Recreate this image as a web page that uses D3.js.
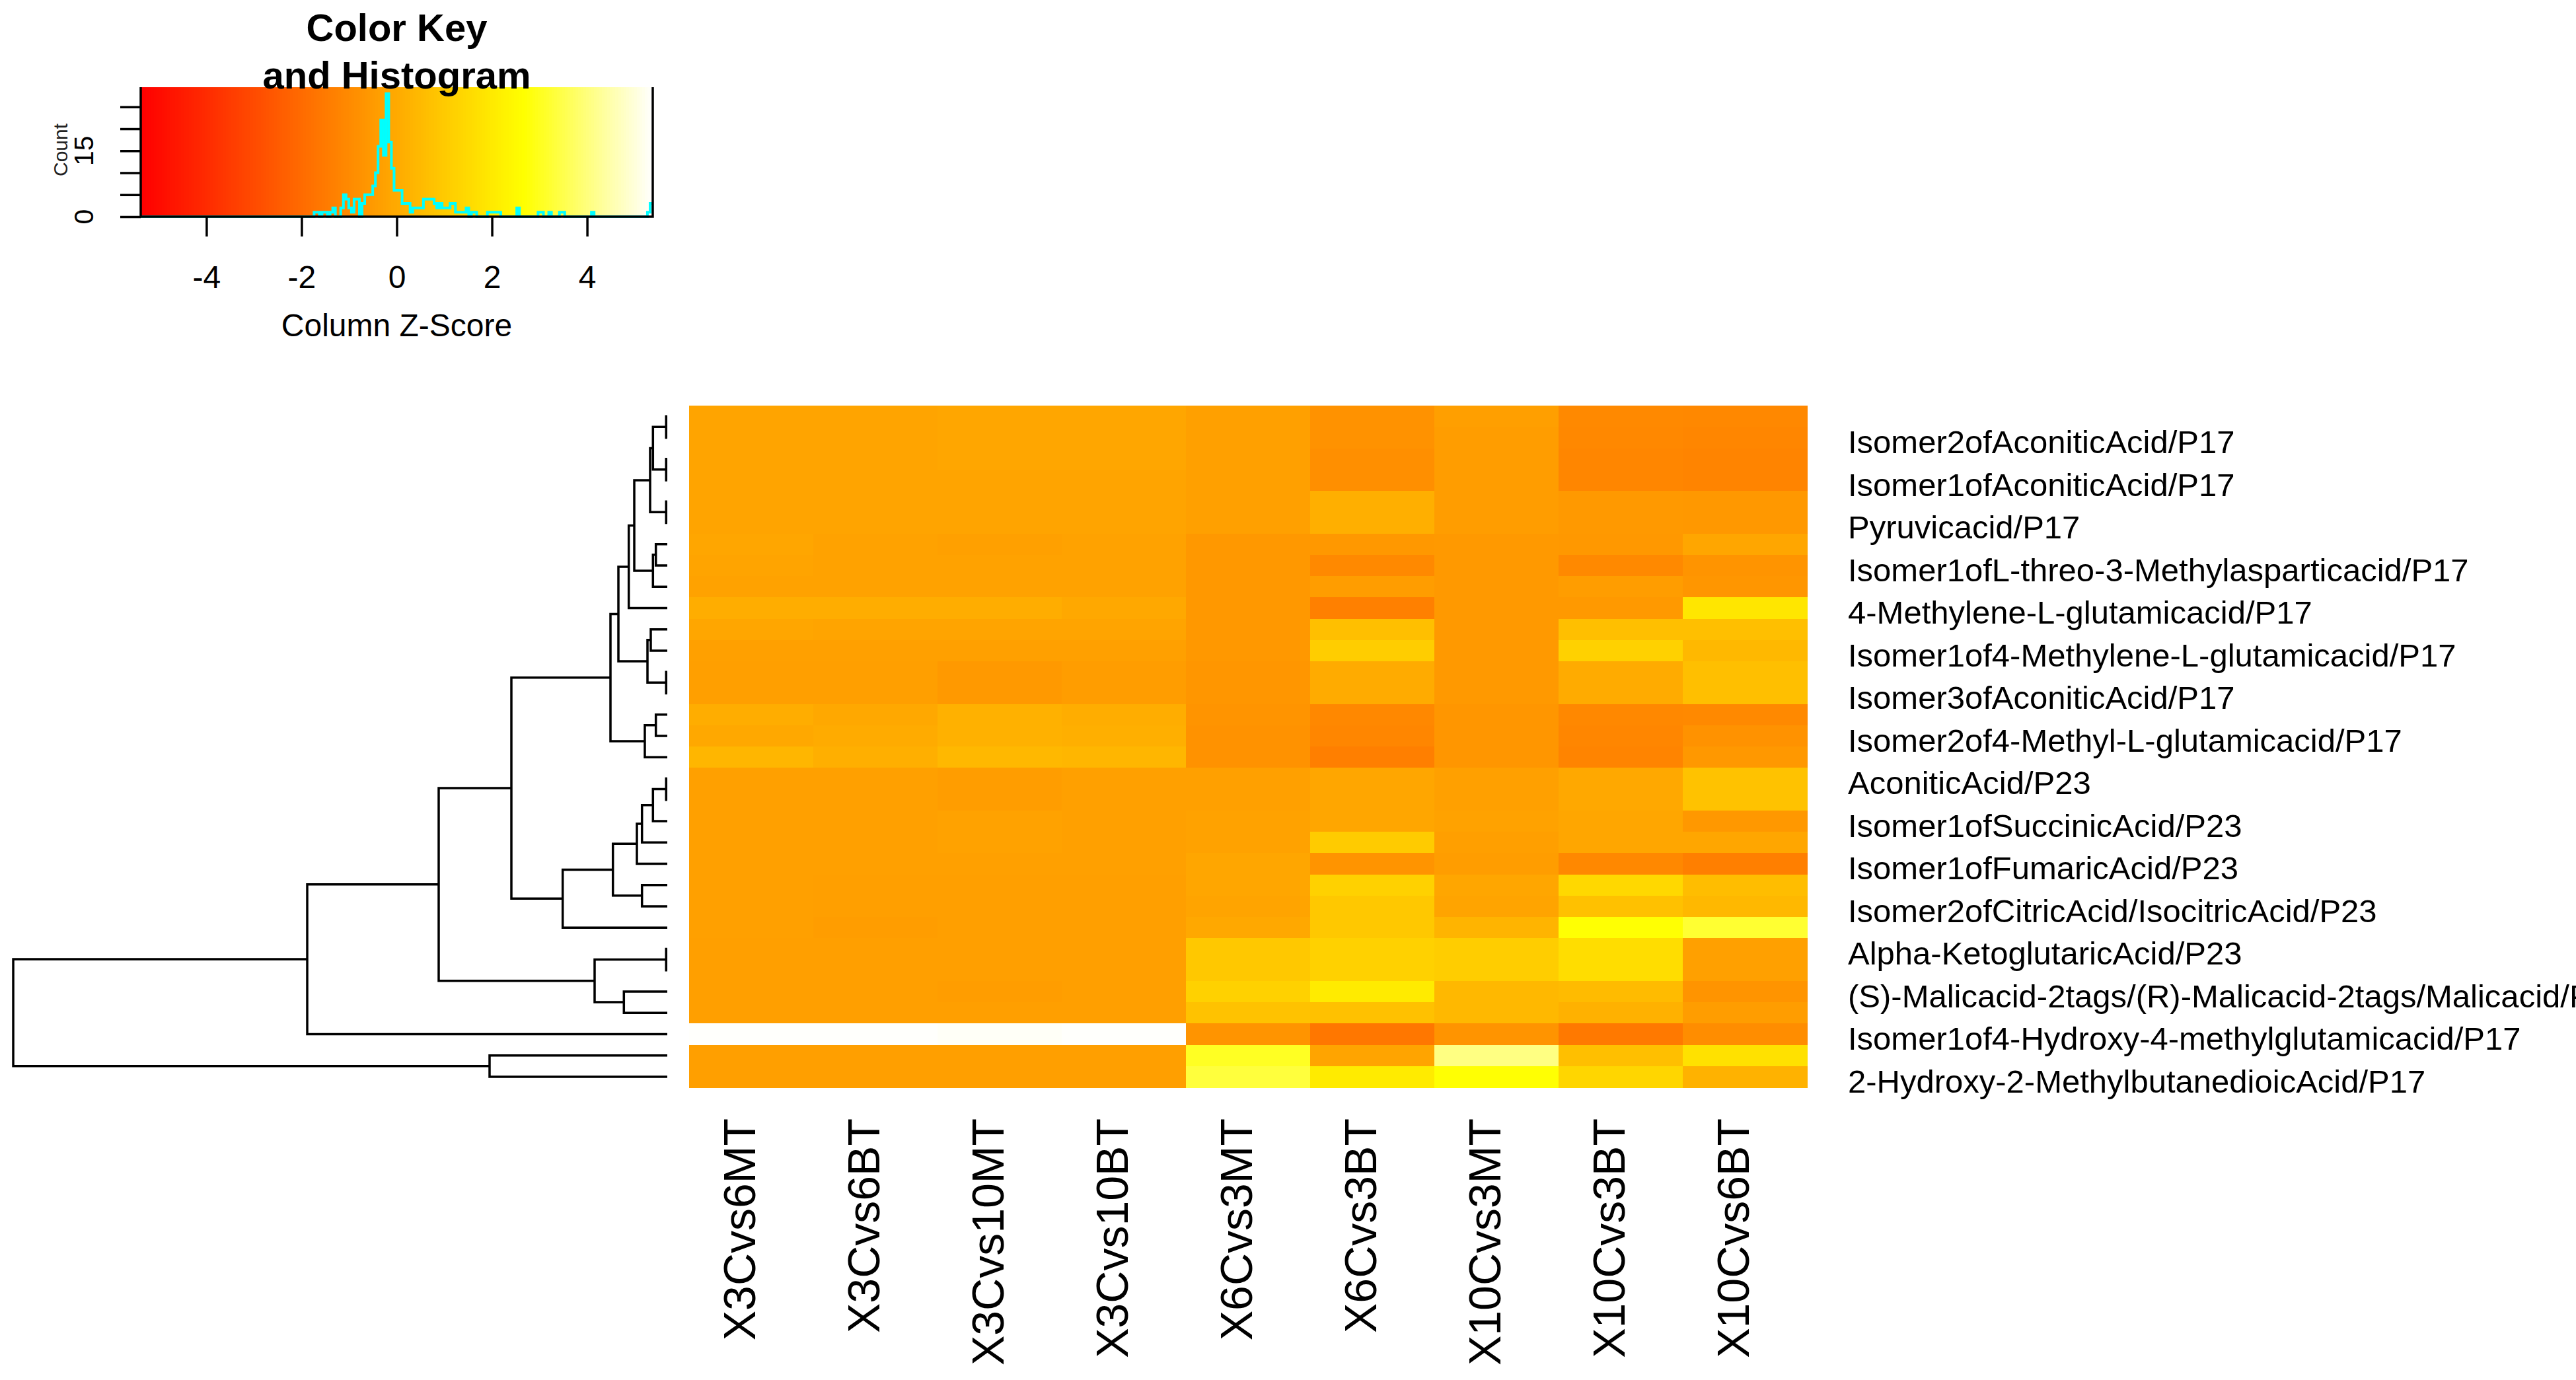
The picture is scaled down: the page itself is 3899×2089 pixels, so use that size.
<!DOCTYPE html>
<html>
<head>
<meta charset="utf-8">
<script src="https://cdn.jsdelivr.net/npm/d3@7"></script>
<style>
  body { margin: 0; background: #fff; overflow: hidden; }
  svg text { font-family: "Liberation Sans", Arial, Helvetica, sans-serif; fill: #000; }
</style>
</head>
<body>
<div id="chart-area"></div>
<script>
// column (comparison) names, left to right
var colLabels = ["X3Cvs6MT", "X3Cvs6BT", "X3Cvs10MT", "X3Cvs10BT", "X6Cvs3MT",
                 "X6Cvs3BT", "X10Cvs3MT", "X10Cvs3BT", "X10Cvs6BT"];

// only every second row carries a visible label (rows 1,3,...,31 from the top)
var labelledRows = [1, 3, 5, 7, 9, 11, 13, 15, 17, 19, 21, 23, 25, 27, 29, 31];
var rowLabels = [
  "Isomer2ofAconiticAcid/P17",
  "Isomer1ofAconiticAcid/P17",
  "Pyruvicacid/P17",
  "Isomer1ofL-threo-3-Methylasparticacid/P17",
  "4-Methylene-L-glutamicacid/P17",
  "Isomer1of4-Methylene-L-glutamicacid/P17",
  "Isomer3ofAconiticAcid/P17",
  "Isomer2of4-Methyl-L-glutamicacid/P17",
  "AconiticAcid/P23",
  "Isomer1ofSuccinicAcid/P23",
  "Isomer1ofFumaricAcid/P23",
  "Isomer2ofCitricAcid/IsocitricAcid/P23",
  "Alpha-KetoglutaricAcid/P23",
  "(S)-Malicacid-2tags/(R)-Malicacid-2tags/Malicacid/P23",
  "Isomer1of4-Hydroxy-4-methylglutamicacid/P17",
  "2-Hydroxy-2-MethylbutanedioicAcid/P17"
];

// column z-scores, 32 rows (top to bottom) x 9 columns
var zScores = [
  [-0.19,-0.19,-0.16,-0.16,-0.32,-0.76,-0.38,-1.01,-1.08],
  [-0.19,-0.19,-0.16,-0.16,-0.32,-0.76,-0.44,-1.08,-1.14],
  [-0.22,-0.22,-0.16,-0.16,-0.32,-0.89,-0.44,-1.14,-1.20],
  [-0.22,-0.22,-0.19,-0.19,-0.32,-0.89,-0.44,-1.14,-1.20],
  [-0.22,-0.22,-0.19,-0.19,-0.32, 0.13,-0.44,-0.51,-0.57],
  [-0.22,-0.22,-0.19,-0.19,-0.32, 0.13,-0.44,-0.51,-0.57],
  [-0.13,-0.25,-0.32,-0.25,-0.57,-0.57,-0.51,-0.57,-0.16],
  [-0.19,-0.25,-0.25,-0.25,-0.57,-1.01,-0.51,-1.01,-0.70],
  [-0.25,-0.25,-0.25,-0.25,-0.57,-0.44,-0.51,-0.44,-0.63],
  [ 0.10, 0.10, 0.10,-0.06,-0.57,-1.33,-0.51,-0.51, 1.90],
  [-0.16,-0.19,-0.19,-0.22,-0.60, 0.67,-0.51, 0.67, 0.67],
  [-0.32,-0.32,-0.32,-0.32,-0.60, 1.08,-0.51, 1.20, 0.44],
  [-0.35,-0.35,-0.51,-0.41,-0.66, 0.00,-0.54, 0.00, 0.63],
  [-0.35,-0.35,-0.51,-0.41,-0.66, 0.00,-0.54, 0.00, 0.63],
  [ 0.10,-0.06, 0.19, 0.10,-0.70,-1.08,-0.63,-1.08,-1.01],
  [-0.06, 0.00, 0.19, 0.13,-0.76,-1.14,-0.63,-1.14,-0.76],
  [ 0.35, 0.13, 0.44, 0.35,-0.76,-1.39,-0.63,-1.20,-0.57],
  [-0.32,-0.32,-0.44,-0.32,-0.32,-0.16,-0.32,-0.06, 0.76],
  [-0.32,-0.32,-0.44,-0.32,-0.32,-0.16,-0.32,-0.06, 0.76],
  [-0.32,-0.32,-0.25,-0.32,-0.25,-0.16,-0.25,-0.13,-0.57],
  [-0.32,-0.32,-0.25,-0.32,-0.25, 1.01,-0.38,-0.13,-0.13],
  [-0.32,-0.32,-0.32,-0.32,-0.13,-0.70,-0.44,-1.08,-1.36],
  [-0.32,-0.38,-0.38,-0.38,-0.13, 1.20,-0.13, 1.42, 0.57],
  [-0.32,-0.38,-0.38,-0.38,-0.22, 0.95,-0.22, 0.70, 0.44],
  [-0.32,-0.44,-0.38,-0.38,-0.06, 0.95, 0.29, 2.69, 3.20],
  [-0.38,-0.38,-0.38,-0.38, 0.95, 1.20, 1.08, 1.61,-0.32],
  [-0.38,-0.38,-0.38,-0.38, 0.95, 1.20, 1.08, 1.61,-0.32],
  [-0.38,-0.38,-0.44,-0.38, 1.20, 2.06, 0.44, 0.54,-0.70],
  [-0.38,-0.38,-0.38,-0.38, 0.76, 0.70, 0.44, 0.19,-0.44],
  [ 5.38, 5.38, 5.30, 5.38,-0.70,-1.61,-0.70,-1.52,-0.95],
  [-0.35,-0.35,-0.35,-0.35, 3.04,-0.19, 4.04, 0.67, 1.71],
  [-0.35,-0.35,-0.35,-0.35, 3.36, 2.06, 2.69, 1.36, 0.25]
];

// row dendrogram, hclust style: [left, right, height]
// negative = leaf (row index + 1), positive = earlier merge (1-based)
var rowMerge = [
  [-1, -2, 0.017], [-3, -4, 0.017], [1, 2, 0.217], [-5, -6, 0.017],
  [3, 4, 0.26], [-7, -8, 0.173], [6, -9, 0.217], [5, 7, 0.50],
  [8, -10, 0.583], [-11, -12, 0.25], [-13, -14, 0.017], [10, 11, 0.30],
  [9, 12, 0.74], [-15, -16, 0.173], [14, -17, 0.34], [13, 15, 0.86],
  [-18, -19, 0.017], [17, -20, 0.217], [18, -21, 0.383], [19, -22, 0.46],
  [-23, -24, 0.383], [20, 21, 0.823], [22, -25, 1.583], [16, 23, 2.36],
  [-26, -27, 0.017], [-28, -29, 0.657], [25, 26, 1.10], [24, 27, 3.46],
  [28, -30, 5.45], [-31, -32, 2.69], [29, 30, 9.9]
];

// color key: symmetric range and number of color bins
var zMax = 5.38;
var nBins = 192;
var keyTicks = [-4, -2, 0, 2, 4];

// histogram of all z-scores: [bin index, count]
var histBins = [
  [65,1],[66,1],[68,1],[69,1],[71,1],[72,2],[75,2],[76,5],[77,4],[78,2],[79,1],
  [80,4],[81,4],[83,3],[84,5],[85,5],[86,5],[87,7],[88,10],[89,16],[90,22],
  [91,14],[92,28],[93,17],[94,11],[95,6],[96,6],[97,6],[98,3],[99,3],[100,3],
  [101,1],[102,2],[103,2],[104,2],[105,2],[106,4],[107,4],[108,4],[109,4],
  [110,3],[111,2],[112,3],[113,2],[114,2],[115,2],[116,3],[117,3],[118,1],
  [119,1],[120,1],[121,1],[122,2],[124,1],[125,1],[130,1],[131,1],[132,1],
  [133,1],[134,1],[141,2],[149,1],[150,1],[153,1],[157,1],[158,1],[169,1],
  [190,1],[191,3]
];
var countTicks = [0, 5, 10, 15, 20, 25];
var countLabels = [0, 15];

var W = 3899, H = 2089;
var svg = d3.select("#chart-area").append("svg")
    .attr("width", W)
    .attr("height", H);

// R heat.colors(n)
function hsv2hex(h, s, v) {
    var hi = Math.floor(h * 6), f = h * 6 - hi;
    var p = v * (1 - s), q = v * (1 - f * s), t = v * (1 - (1 - f) * s);
    var c = [[v, t, p], [q, v, p], [p, v, t], [p, q, v], [t, p, v], [v, p, q]][hi % 6];
    return d3.rgb(c[0] * 255, c[1] * 255, c[2] * 255).formatHex();
}
function heatColors(n) {
    var j = Math.floor(n / 4), i = n - j, out = [];
    for (var k = 0; k < i; k++) out.push(hsv2hex((k / (i - 1)) / 6, 1, 1));
    for (var k = 0; k < j; k++) {
        var s = (1 - 1 / (2 * j)) + (k / (j - 1)) * ((1 / (2 * j)) - (1 - 1 / (2 * j)));
        out.push(hsv2hex(1 / 6, s, 1));
    }
    return out;
}
var palette = heatColors(nBins);
var color = d3.scaleQuantize().domain([-zMax, zMax]).range(palette);
var breaks = d3.range(nBins + 1).map(function(k){ return -zMax + k * 2 * zMax / nBins; });

/* HEATMAP ************************************************************/
var x = d3.scaleBand().domain(d3.range(colLabels.length)).range([1043, 2735]);
var y = d3.scaleBand().domain(d3.range(zScores.length)).range([614, 1646]);

var cells = [];
zScores.forEach(function(row, i){
    row.forEach(function(v, j){ cells.push({ i: i, j: j, v: v }); });
});
svg.append("g")
    .attr("shape-rendering", "crispEdges")
  .selectAll("rect")
  .data(cells)
  .enter().append("rect")
    .attr("x", function(d){ return x(d.j); })
    .attr("y", function(d){ return y(d.i); })
    .attr("width", x.bandwidth() + 0.6)
    .attr("height", y.bandwidth() + 0.6)
    .attr("fill", function(d){ return color(d.v); });

// row labels (right)
svg.append("g").selectAll("text")
  .data(rowLabels)
  .enter().append("text")
    .attr("x", 2797)
    .attr("y", function(d, k){ return y(labelledRows[k]) + y.bandwidth() / 2 + 7; })
    .attr("dominant-baseline", "central")
    .attr("font-size", "49px")
    .text(function(d){ return d; });

// column labels (bottom, vertical)
svg.append("g").selectAll("text")
  .data(colLabels)
  .enter().append("text")
    .attr("transform", function(d, j){
        return "translate(" + (x(j) + x.bandwidth() / 2 - 18) + ",1693) rotate(-90)";
    })
    .attr("text-anchor", "end")
    .attr("dominant-baseline", "central")
    .attr("font-size", "68px")
    .text(function(d){ return d; });

/* ROW DENDROGRAM *****************************************************/
var hx = d3.scaleLinear().domain([0, 9.9]).range([1010, 20]);
var nodes = [];
function nodeOf(ref) {
    if (ref < 0) return { y: y(-ref - 1) + y.bandwidth() / 2, h: 0 };
    return nodes[ref - 1];
}
rowMerge.forEach(function(m){
    var a = nodeOf(m[0]), b = nodeOf(m[1]);
    nodes.push({ y: (a.y + b.y) / 2, h: m[2], a: a, b: b });
});
svg.append("g").selectAll("path")
  .data(nodes)
  .enter().append("path")
    .attr("d", function(n){
        return "M" + hx(n.a.h) + "," + n.a.y + "H" + hx(n.h) + "V" + n.b.y + "H" + hx(n.b.h);
    })
    .attr("fill", "none")
    .attr("stroke", "#000")
    .attr("stroke-width", 3.5);

/* COLOR KEY + HISTOGRAM **********************************************/
var keyTop = 132, keyBottom = 328;
var kx = d3.scaleLinear().domain([-zMax, zMax]).range([213, 988]);

var key = svg.append("g");
key.append("g")
    .attr("shape-rendering", "crispEdges")
  .selectAll("rect")
  .data(palette)
  .enter().append("rect")
    .attr("x", function(d, k){ return kx(breaks[k]); })
    .attr("y", keyTop)
    .attr("width", function(d, k){ return kx(breaks[k + 1]) - kx(breaks[k]) + 0.6; })
    .attr("height", keyBottom - keyTop)
    .attr("fill", function(d){ return d; });

var counts = breaks.slice(1).map(function(){ return 0; });
histBins.forEach(function(b){ counts[b[0]] = b[1]; });
var hy = counts.concat([counts[counts.length - 1]]);
var ky = d3.scaleLinear()
    .domain([0, d3.max(counts)])
    .range([keyBottom, keyBottom - 0.95 * (keyBottom - keyTop)]);

key.append("path")
    .datum(breaks)
    .attr("d", d3.line()
        .x(function(b){ return kx(b); })
        .y(function(b, k){ return ky(hy[k]); })
        .curve(d3.curveStepAfter))
    .attr("fill", "none")
    .attr("stroke", "#00FFFF")
    .attr("stroke-width", 4);

// frame (left, bottom, right)
key.append("path")
    .attr("d", "M" + kx(-zMax) + "," + keyTop + "V" + keyBottom + "H" + kx(zMax) + "V" + keyTop)
    .attr("fill", "none")
    .attr("stroke", "#000")
    .attr("stroke-width", 3.5);

var xAxisCall = d3.axisBottom(kx)
    .tickValues(keyTicks)
    .tickSize(30)
    .tickPadding(44)
    .tickFormat(function(d){ return String(d); });
var xAxisG = key.append("g")
    .attr("transform", "translate(0," + keyBottom + ")")
    .call(xAxisCall);
xAxisG.select(".domain").remove();
xAxisG.selectAll("line").attr("stroke", "#000").attr("stroke-width", 3.5);
xAxisG.selectAll("text")
    .attr("font-size", "48px")
    .attr("font-family", "Liberation Sans, Arial, sans-serif")
    .attr("fill", "#000");

var yAxisCall = d3.axisLeft(ky)
    .tickValues(countTicks)
    .tickSize(31)
    .tickFormat("");
var yAxisG = key.append("g")
    .attr("transform", "translate(" + kx(-zMax) + ",0)")
    .call(yAxisCall);
yAxisG.select(".domain").remove();
yAxisG.selectAll("line").attr("stroke", "#000").attr("stroke-width", 3.5);

key.append("g").selectAll("text")
  .data(countLabels)
  .enter().append("text")
    .attr("transform", function(d){ return "translate(127," + ky(d) + ") rotate(-90)"; })
    .attr("text-anchor", "middle")
    .attr("dominant-baseline", "central")
    .attr("font-size", "41px")
    .text(function(d){ return d; });

key.append("text")
    .attr("transform", "translate(91,227) rotate(-90)")
    .attr("text-anchor", "middle")
    .attr("dominant-baseline", "central")
    .attr("font-size", "30px")
    .style("fill", "#222")
    .text("Count");

key.append("text")
    .attr("x", (kx(-zMax) + kx(zMax)) / 2)
    .attr("y", 509)
    .attr("text-anchor", "middle")
    .attr("font-size", "48px")
    .text("Column Z-Score");

var title = key.append("text")
    .attr("text-anchor", "middle")
    .attr("font-size", "58px")
    .attr("font-weight", "bold");
title.append("tspan")
    .attr("x", (kx(-zMax) + kx(zMax)) / 2)
    .attr("y", 62)
    .text("Color Key");
title.append("tspan")
    .attr("x", (kx(-zMax) + kx(zMax)) / 2)
    .attr("y", 134)
    .text("and Histogram");
</script>
</body>
</html>
